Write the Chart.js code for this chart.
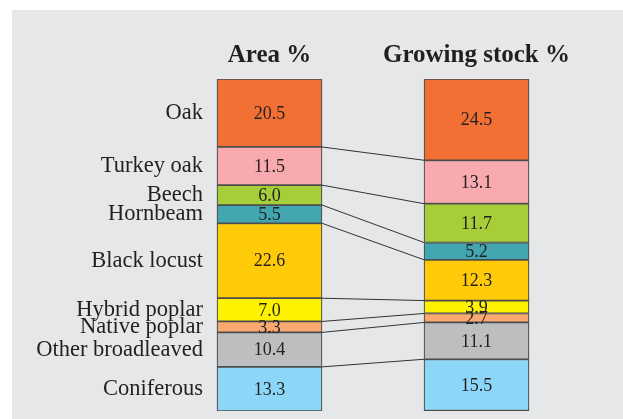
<!DOCTYPE html>
<html>
<head>
<meta charset="utf-8">
<script src="https://cdn.jsdelivr.net/npm/chart.js@4"></script>
<style>
  html, body { margin: 0; padding: 0; background: #fff; }
  canvas { display: block; }
</style>
</head>
<body>
<canvas id="chart" width="623" height="419"></canvas>
<script>
// data
const species = ['Oak', 'Turkey oak', 'Beech', 'Hornbeam', 'Black locust',
    'Hybrid poplar', 'Native poplar', 'Other broadleaved', 'Coniferous'];
const areaPct = [20.5, 11.5, 6.0, 5.5, 22.6, 7.0, 3.3, 10.4, 13.3];
const stockPct = [24.5, 13.1, 11.7, 5.2, 12.3, 3.9, 2.7, 11.1, 15.5];
const columnTitles = ['Area %', 'Growing stock %'];

const colors = ['#f37035', '#f9aaae', '#a6ce39', '#42a6b0', '#ffcb08',
    '#fff200', '#f9a972', '#bcbec0', '#8cd7f7'];

const serif = "'Liberation Serif', 'Times New Roman', serif";
const textColor = '#231f20';

// cumulative midpoints for the species labels (area column)
const areaMids = [];
let acc = 0;
areaPct.forEach(v => { areaMids.push(acc + v / 2); acc += v; });
const areaTotal = acc;

const datasets = species.map((name, i) => ({
    label: name,
    data: [{ x: 0, y: areaPct[i] }, { x: 1, y: stockPct[i] }],
    backgroundColor: colors[i],
    borderColor: '#4d4d4d',
    borderWidth: 1.2,
    borderSkipped: false,
    barThickness: 105
}));

// gray panel behind the chart
const panelBg = {
    id: 'panelBg',
    beforeDraw(chart) {
        const ctx = chart.ctx;
        ctx.save();
        ctx.fillStyle = '#e6e7e8';
        ctx.fillRect(12, 10, chart.width - 12, chart.height - 10);
        ctx.restore();
    }
};

// lines joining the boundaries of both columns + value labels
const linksAndValues = {
    id: 'linksAndValues',
    afterDatasetsDraw(chart) {
        const ctx = chart.ctx;
        ctx.save();
        ctx.strokeStyle = '#333';
        ctx.lineWidth = 1;
        for (let i = 0; i < species.length - 1; i++) {
            const meta = chart.getDatasetMeta(i);
            const a = meta.data[0], b = meta.data[1];
            ctx.beginPath();
            ctx.moveTo(a.x + a.width / 2, a.y);
            ctx.lineTo(b.x - b.width / 2, b.y);
            ctx.stroke();
        }
        ctx.fillStyle = textColor;
        ctx.font = '18px ' + serif;
        ctx.textAlign = 'center';
        ctx.textBaseline = 'middle';
        species.forEach((s, i) => {
            const meta = chart.getDatasetMeta(i);
            meta.data.forEach((el, j) => {
                const v = j === 0 ? areaPct[i] : stockPct[i];
                ctx.fillText(v.toFixed(1), el.x, (el.y + el.base) / 2 + 1);
            });
        });
        ctx.restore();
    }
};

new Chart(document.getElementById('chart'), {
    type: 'bar',
    data: { datasets: datasets },
    plugins: [panelBg, linksAndValues],
    options: {
        responsive: false,
        animation: false,
        devicePixelRatio: 1,
        layout: { padding: { left: 30, top: 33, right: 0, bottom: 8 } },
        plugins: {
            legend: { display: false },
            tooltip: { enabled: false }
        },
        scales: {
            x: {
                type: 'linear',
                position: 'top',
                stacked: true,
                offset: false,
                min: -0.2826,
                max: 1.7077,
                grid: { display: false, drawTicks: false },
                border: { display: false },
                afterBuildTicks: (scale) => { scale.ticks = [{ value: 0 }, { value: 1 }]; },
                afterFit: (scale) => { scale.paddingLeft = 0; scale.paddingRight = 0; },
                ticks: {
                    autoSkip: false,
                    maxRotation: 0,
                    padding: 8,
                    color: textColor,
                    font: { family: serif, size: 25, weight: 'bold' },
                    callback: (v) => columnTitles[v]
                }
            },
            y: {
                stacked: true,
                reverse: true,
                min: 0,
                max: areaTotal,
                grid: { display: false, drawTicks: false },
                border: { display: false },
                afterFit: (scale) => {
                    scale.width = 181;
                    scale.paddingTop = 0;
                    scale.paddingBottom = 0;
                },
                afterBuildTicks: (scale) => { scale.ticks = areaMids.map(v => ({ value: v })); },
                ticks: {
                    autoSkip: false,
                    padding: 8,
                    color: textColor,
                    font: { family: serif, size: 22.5 },
                    callback: (v, i) => species[i]
                }
            }
        }
    }
});
</script>
</body>
</html>
